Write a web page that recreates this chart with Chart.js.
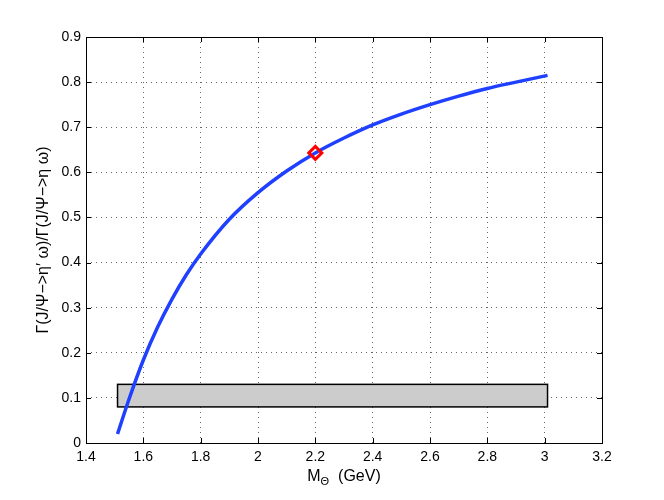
<!DOCTYPE html>
<html>
<head>
<meta charset="utf-8">
<script src="https://cdn.jsdelivr.net/npm/chart.js@4/dist/chart.umd.min.js"></script>
<style>
  html, body { margin: 0; padding: 0; background: #fff; }
</style>
</head>
<body>
<canvas id="grafico" width="664" height="500"></canvas>
<script>
// datos
const masa = [1.51, 1.55, 1.6, 1.65, 1.7, 1.75, 1.8, 1.9, 2.0, 2.1, 2.2, 2.3, 2.4, 2.5, 2.6, 2.7, 2.8, 2.9, 3.01];
const cociente = [0.02, 0.097, 0.184, 0.257, 0.319, 0.373, 0.419, 0.496, 0.555, 0.603, 0.643, 0.676, 0.705, 0.729, 0.75, 0.769, 0.786, 0.8, 0.815];
const puntoX = [2.2];
const puntoY = [0.643];
// banda experimental
const bandaX = [1.51, 3.01];
const bandaY = [0.08, 0.13];

const xTicks = [1.4, 1.6, 1.8, 2, 2.2, 2.4, 2.6, 2.8, 3, 3.2];
const yTicks = [0, 0.1, 0.2, 0.3, 0.4, 0.5, 0.6, 0.7, 0.8, 0.9];

const fuente = "'Liberation Sans', Arial, Helvetica, sans-serif";

// caja gris detras de la curva
const pluginBanda = {
  id: "banda",
  beforeDatasetsDraw(chart) {
    const { ctx, scales } = chart;
    const x1 = scales.x.getPixelForValue(bandaX[0]);
    const x2 = scales.x.getPixelForValue(bandaX[1]);
    const y1 = scales.y.getPixelForValue(bandaY[1]);
    const y2 = scales.y.getPixelForValue(bandaY[0]);
    ctx.save();
    ctx.fillStyle = "#cccccc";
    ctx.strokeStyle = "#000";
    ctx.lineWidth = 1.5;
    ctx.fillRect(x1, y1, x2 - x1, y2 - y1);
    ctx.strokeRect(x1, y1, x2 - x1, y2 - y1);
    ctx.restore();
  },
};

// marco, ticks hacia adentro y titulo del eje x con subindice
const pluginMarco = {
  id: "marco",
  afterDraw(chart) {
    const { ctx, chartArea: a, scales } = chart;
    ctx.save();
    ctx.strokeStyle = "#000";
    ctx.lineWidth = 1;
    ctx.beginPath();
    xTicks.forEach((v) => {
      const px = Math.round(scales.x.getPixelForValue(v)) + 0.5;
      ctx.moveTo(px, a.bottom);
      ctx.lineTo(px, a.bottom - 5);
      ctx.moveTo(px, a.top);
      ctx.lineTo(px, a.top + 5);
    });
    yTicks.forEach((v) => {
      const py = Math.round(scales.y.getPixelForValue(v)) + 0.5;
      ctx.moveTo(a.left, py);
      ctx.lineTo(a.left + 5, py);
      ctx.moveTo(a.right, py);
      ctx.lineTo(a.right - 5, py);
    });
    ctx.stroke();
    ctx.strokeRect(Math.round(a.left) + 0.5, Math.round(a.top) + 0.5, Math.round(a.right - a.left), Math.round(a.bottom - a.top));

    // M_Θ (GeV)
    const base = 481;
    ctx.fillStyle = "#000";
    ctx.textBaseline = "alphabetic";
    ctx.font = "16px " + fuente;
    const wM = ctx.measureText("M").width;
    const wG = ctx.measureText("  (GeV)").width;
    ctx.font = "11px " + fuente;
    const wT = ctx.measureText("Θ").width;
    let x = (a.left + a.right) / 2 - (wM + wT + wG) / 2;
    ctx.font = "16px " + fuente;
    ctx.fillText("M", x, base);
    x += wM;
    ctx.font = "11px " + fuente;
    ctx.fillText("Θ", x, base + 4);
    x += wT;
    ctx.font = "16px " + fuente;
    ctx.fillText("  (GeV)", x, base);
    ctx.restore();
  },
};

new Chart("grafico", {
  type: "line",
  data: {
    datasets: [
      {
        data: masa.map((m, i) => ({ x: m, y: cociente[i] })),
        borderColor: "#2040ff",
        borderWidth: 3.5,
        pointRadius: 0,
        cubicInterpolationMode: "monotone",
        fill: false,
        order: 2,
      },
      {
        data: puntoX.map((m, i) => ({ x: m, y: puntoY[i] })),
        showLine: false,
        pointStyle: "rectRot",
        pointRadius: 6.5,
        pointBorderWidth: 3,
        pointBorderColor: "#ff0000",
        pointBackgroundColor: "rgba(0,0,0,0)",
        order: 1,
      },
    ],
  },
  options: {
    responsive: false,
    animation: false,
    layout: { padding: { top: 37, right: 62, left: 0, bottom: 0 } },
    plugins: {
      legend: { display: false },
      tooltip: { enabled: false },
    },
    scales: {
      x: {
        type: "linear",
        min: 1.4,
        max: 3.2,
        afterBuildTicks: (s) => { s.ticks = xTicks.map((v) => ({ value: v })); },
        afterFit: (s) => { s.height = 57; },
        ticks: {
          color: "#000",
          font: { family: fuente, size: 14 },
          padding: 6,
          maxRotation: 0,
          callback: (v) => String(+v.toFixed(1)),
        },
        grid: { color: "#666", lineWidth: 1, drawTicks: false },
        border: { display: false, dash: [1, 4] },
      },
      y: {
        min: 0,
        max: 0.9,
        afterBuildTicks: (s) => { s.ticks = yTicks.map((v) => ({ value: v })); },
        afterFit: (s) => { s.width = 86; },
        ticks: {
          color: "#000",
          font: { family: fuente, size: 14 },
          padding: 5,
          callback: (v) => String(+v.toFixed(1)),
        },
        grid: { color: "#666", lineWidth: 1, drawTicks: false },
        border: { display: false, dash: [1, 4] },
        title: {
          display: true,
          text: "Γ(J/Ψ−>η′ ω)/Γ(J/Ψ−>η ω)",
          color: "#000",
          font: { family: fuente, size: 16 },
          padding: { top: 34, bottom: 0 },
        },
      },
    },
  },
  plugins: [pluginBanda, pluginMarco],
});
</script>
</body>
</html>
